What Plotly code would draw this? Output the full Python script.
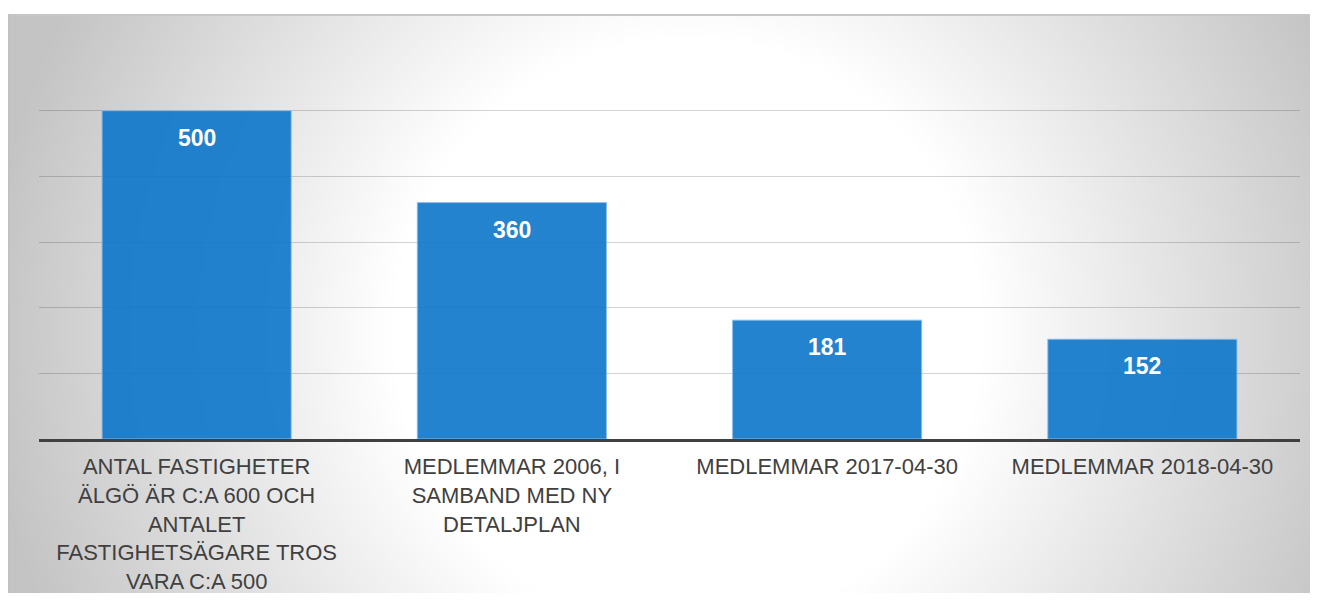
import base64
import plotly.graph_objects as go

categories = [
    "ANTAL FASTIGHETER<br>ÄLGÖ ÄR C:A 600 OCH<br>ANTALET<br>FASTIGHETSÄGARE TROS<br>VARA C:A 500",
    "MEDLEMMAR 2006, I<br>SAMBAND MED NY<br>DETALJPLAN",
    "MEDLEMMAR 2017-04-30",
    "MEDLEMMAR 2018-04-30",
]
values = [500, 360, 181, 152]
value_labels = ["500", "360", "181", "152"]

# page body keeps its default 8px margin: figure + 16 = 1318 x 601 window
W, H = 1302, 585
ML, MR, MT, MB = 31, 10, 37, 154
pw, ph = W - ML - MR, H - MT - MB

# background panel (radial gradient) as SVG image, in figure pixel coords
panel_x0, panel_y0, panel_x1, panel_y1 = 0, 6, 1310, 593
pwid, phgt = panel_x1 - panel_x0, panel_y1 - panel_y0
svg = f'''<svg xmlns="http://www.w3.org/2000/svg" width="{pwid}" height="{phgt}" viewBox="0 0 {pwid} {phgt}" preserveAspectRatio="none">
<defs><radialGradient id="g" gradientUnits="userSpaceOnUse" cx="680" cy="320" r="700">
<stop offset="0" stop-color="#ffffff"/>
<stop offset="0.42" stop-color="#ffffff"/>
<stop offset="1" stop-color="#c4c4c4"/>
</radialGradient></defs>
<rect x="0" y="0" width="{pwid}" height="{phgt}" fill="url(#g)"/>
<rect x="0" y="0" width="{pwid}" height="2" fill="#c6c6c6"/>
<rect x="0" y="0" width="1.5" height="{phgt}" fill="#c0c0c0"/>
</svg>'''
src = "data:image/svg+xml;base64," + base64.b64encode(svg.encode()).decode()

fig = go.Figure()
fig.add_trace(go.Bar(
    x=categories, y=values,
    marker=dict(color="rgba(12,117,202,0.9)", line=dict(color="rgba(140,190,235,0.9)", width=1)),
    hoverinfo="skip",
))

for c, v, t in zip(categories, values, value_labels):
    fig.add_annotation(x=c, y=v, text=f"<b>{t}</b>", showarrow=False,
                       yanchor="middle", yshift=-27,
                       font=dict(family="Liberation Sans, Arial", size=23, color="white"))

fig.add_layout_image(dict(
    source=src, xref="paper", yref="paper",
    x=(panel_x0 - ML) / pw, y=(H - MB - panel_y0) / ph,
    sizex=pwid / pw, sizey=phgt / ph,
    xanchor="left", yanchor="top", sizing="stretch", layer="below",
))

fig.update_layout(
    width=W, height=H,
    margin=dict(l=ML, r=MR, t=MT, b=MB, pad=0, autoexpand=False),
    paper_bgcolor="white", plot_bgcolor="rgba(0,0,0,0)",
    bargap=0.4, showlegend=False,
    font=dict(family="Liberation Sans, Arial", size=22, color="#404040"),
)
fig.update_xaxes(showline=True, linecolor="#404040", linewidth=3, ticks="",
                 tickfont=dict(size=22, color="#404040"), ticklabelstandoff=6,
                 showgrid=False, zeroline=False, automargin=False)
fig.update_yaxes(range=[0, 600], dtick=100, showticklabels=False,
                 showgrid=True, gridcolor="rgba(0,0,0,0.17)", gridwidth=1,
                 zeroline=False, showline=False, automargin=False)

fig.write_html("out.html", config={"displayModeBar": False})
